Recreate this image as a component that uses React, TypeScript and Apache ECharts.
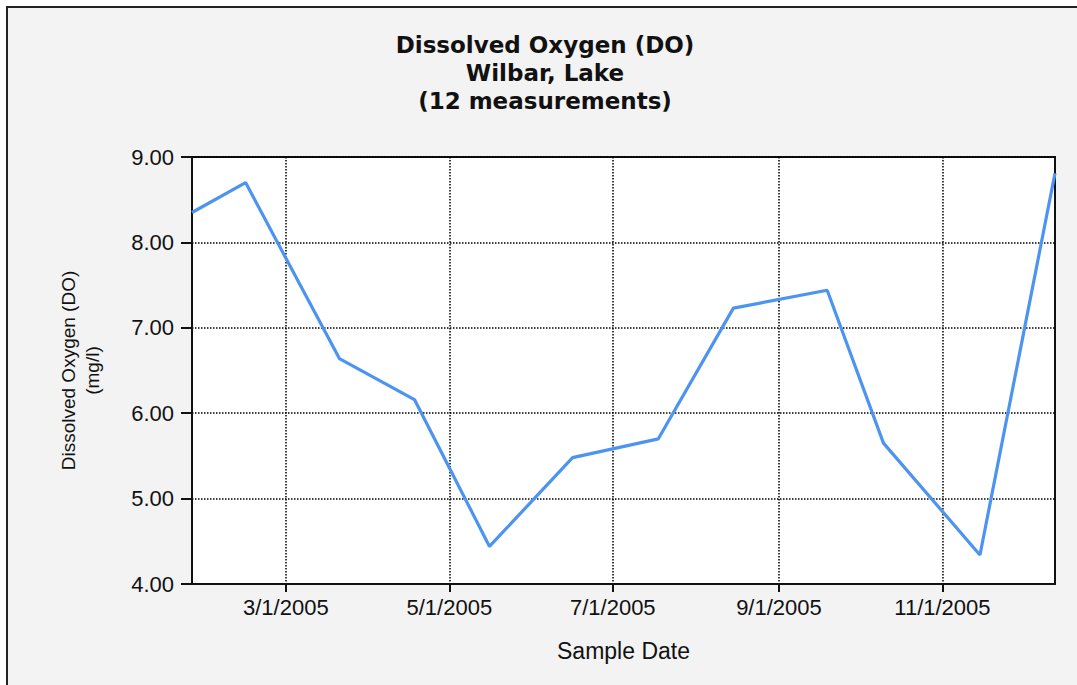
import React, { useEffect, useRef } from 'react';
import * as echarts from 'echarts';

const titleLines = ['Dissolved Oxygen (DO)', 'Wilbar, Lake', '(12 measurements)'];
const sampleDates = [
  '2005-01-25', '2005-02-14', '2005-03-21', '2005-04-18', '2005-05-16', '2005-06-16',
  '2005-07-18', '2005-08-15', '2005-09-19', '2005-10-10', '2005-11-15', '2005-12-13',
];
const doValues = [8.35, 8.7, 6.64, 6.16, 4.44, 5.48, 5.7, 7.23, 7.44, 5.65, 4.34, 8.81];
const xTickDates = ['2005-03-01', '2005-05-01', '2005-07-01', '2005-09-01', '2005-11-01'];
const yMin = 4;
const yMax = 9;
const yStep = 1;
const xAxisName = 'Sample Date';
const yAxisName = 'Dissolved Oxygen (DO)\n(mg/l)';

function toTime(s: string): number {
  const [y, m, d] = s.split('-').map(Number);
  return new Date(y, m - 1, d).getTime();
}

function fmtDate(v: number): string {
  const d = new Date(v);
  return `${d.getMonth() + 1}/${d.getDate()}/${d.getFullYear()}`;
}

export default function App() {
  const ref = useRef<HTMLDivElement>(null);

  useEffect(() => {
    document.body.style.margin = '0';
    if (!ref.current) return;
    const chart = echarts.init(ref.current, null, { renderer: 'svg' });
    const seriesData = sampleDates.map((d, i) => [toTime(d), doValues[i]]);
    const tickTimes = xTickDates.map(toTime);
    chart.setOption({
      animation: false,
      backgroundColor: 'transparent',
      textStyle: { fontFamily: 'Liberation Sans' },
      graphic: [
        {
          type: 'text',
          x: 545,
          y: 31,
          silent: true,
          style: {
            text: titleLines.join('\n'),
            fontFamily: 'DejaVu Sans',
            fontWeight: 'bold',
            fontSize: 23,
            lineHeight: 28,
            fill: '#111',
            align: 'center',
            verticalAlign: 'top',
          },
        },
      ],
      grid: {
        left: 192,
        top: 157,
        right: 22,
        bottom: 101,
        containLabel: false,
        outerBoundsMode: 'none',
        show: true,
        backgroundColor: '#ffffff',
        borderColor: '#111',
        borderWidth: 2,
      },
      xAxis: {
        type: 'value',
        min: toTime(sampleDates[0]),
        max: toTime(sampleDates[sampleDates.length - 1]),
        name: xAxisName,
        nameLocation: 'middle',
        nameGap: 55,
        nameTextStyle: { fontFamily: 'Liberation Sans', fontSize: 23, color: '#111', lineHeight: 23 },
        axisLine: { show: true, lineStyle: { color: '#111', width: 2 } },
        axisTick: {
          show: true,
          inside: false,
          length: 8,
          customValues: tickTimes,
          lineStyle: { color: '#111', width: 2 },
        },
        axisLabel: {
          show: true,
          customValues: tickTimes,
          formatter: (v: number) => fmtDate(v),
          fontFamily: 'Liberation Sans',
          fontSize: 22,
          lineHeight: 22,
          color: '#111',
          margin: 12,
          hideOverlap: false,
        },
        splitLine: {
          show: true,
          lineStyle: { color: '#000', width: 1.5, type: [1.5, 1.5] },
        },
      },
      yAxis: {
        type: 'value',
        min: yMin,
        max: yMax,
        interval: yStep,
        name: yAxisName,
        nameLocation: 'middle',
        nameRotate: 90,
        nameGap: 88,
        nameTextStyle: { fontFamily: 'Liberation Sans', fontSize: 19, lineHeight: 24, color: '#111', align: 'center' },
        axisLine: { show: true, lineStyle: { color: '#111', width: 2 } },
        axisTick: { show: true, inside: false, length: 11, lineStyle: { color: '#111', width: 2 } },
        axisLabel: {
          formatter: (v: number) => v.toFixed(2),
          fontFamily: 'Liberation Sans',
          fontSize: 22,
          color: '#111',
          margin: 18,
        },
        splitLine: {
          show: true,
          lineStyle: { color: '#000', width: 1.5, type: [1.5, 1.5] },
        },
      },
      series: [
        {
          type: 'line',
          data: seriesData,
          showSymbol: false,
          symbol: 'none',
          lineStyle: { color: '#4d94f0', width: 3.2 },
          itemStyle: { color: '#4d94f0' },
          clip: true,
        },
      ],
    });
    return () => chart.dispose();
  }, []);

  return (
    <div style={{ position: 'relative', width: 1077, height: 685, overflow: 'hidden', background: '#fff' }}>
      <div
        style={{
          position: 'absolute',
          left: 6,
          top: 6,
          width: 1200,
          height: 800,
          border: '2px solid #222',
          background: '#f3f3f3',
        }}
      />
      <div ref={ref} style={{ position: 'absolute', left: 0, top: 0, width: 1077, height: 685 }} />
    </div>
  );
}
